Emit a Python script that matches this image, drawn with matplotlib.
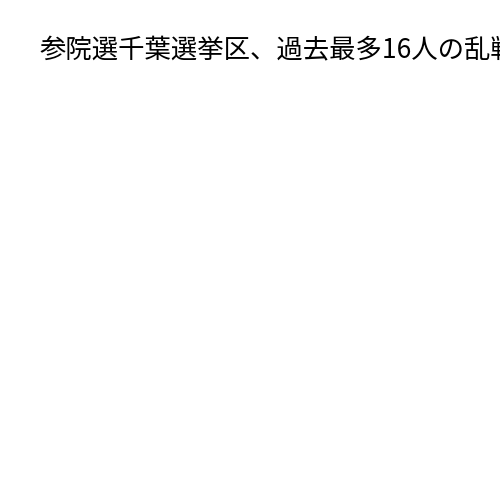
import matplotlib
matplotlib.use('Agg')
import matplotlib.pyplot as plt

plt.rcParams['font.family'] = ['Noto Sans CJK JP', 'DejaVu Sans']

title = '参院選千葉選挙区、過去最多16人の乱戦'

fig = plt.figure(figsize=(5, 5), dpi=100)
fig.patch.set_facecolor('white')
fig.text(0.08, 0.899, title, fontsize=19, color='black', ha='left', va='center')
plt.savefig('out.png', dpi=100, facecolor='white')
